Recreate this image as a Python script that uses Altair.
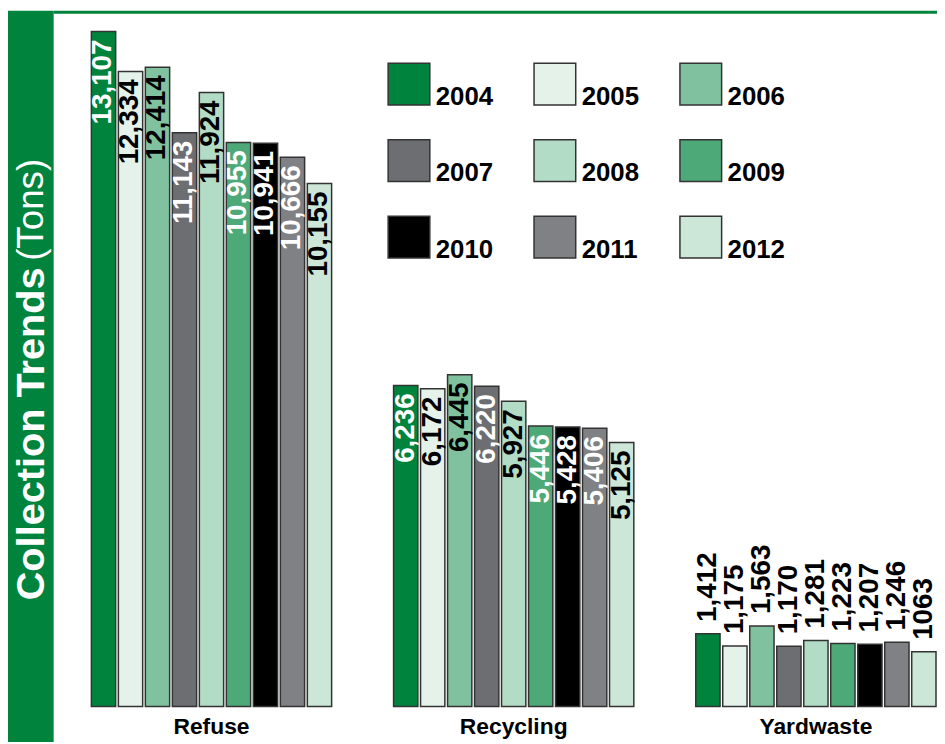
import altair as alt
import pandas as pd

years = ["2004", "2005", "2006", "2007", "2008", "2009", "2010", "2011", "2012"]
categories = ["Refuse", "Recycling", "Yardwaste"]

refuse = [13107, 12334, 12414, 11143, 11924, 10955, 10941, 10666, 10155]
recycling = [6236, 6172, 6445, 6220, 5927, 5446, 5428, 5406, 5125]
yardwaste = [1412, 1175, 1563, 1170, 1281, 1223, 1207, 1246, 1063]

refuse_labels = ["13,107", "12,334", "12,414", "11,143", "11,924", "10,955", "10,941", "10,666", "10,155"]
recycling_labels = ["6,236", "6,172", "6,445", "6,220", "5,927", "5,446", "5,428", "5,406", "5,125"]
yardwaste_labels = ["1,412", "1,175", "1,563", "1,170", "1,281", "1,223", "1,207", "1,246", "1063"]

year_colors = ["#00843D", "#E4F2EA", "#80C29F", "#6D6E71", "#B3DCC6",
               "#4DAA78", "#000000", "#808184", "#CCE6D8"]
white_label_years = ["2004", "2007", "2009", "2010", "2011"]

rows = []
for cat, vals, labs in zip(categories, [refuse, recycling, yardwaste],
                           [refuse_labels, recycling_labels, yardwaste_labels]):
    for y, v, l in zip(years, vals, labs):
        rows.append({"category": cat, "year": y, "value": v, "label": l})
df = pd.DataFrame(rows)

FONT = "Liberation Sans"
W, H = 851, 701
YMAX = 13512

x_enc = alt.X("category:N", sort=categories,
              scale=alt.Scale(paddingInner=0.205, paddingOuter=0),
              axis=alt.Axis(title=None, ticks=False, domain=False, labelAngle=0,
                            labelFont=FONT, labelFontSize=23, labelFontWeight="bold",
                            labelColor="black", labelPadding=9))
xo_enc = alt.XOffset("year:N", sort=years,
                     scale=alt.Scale(paddingInner=0.1, paddingOuter=0))
y_enc = alt.Y("value:Q", scale=alt.Scale(domain=[0, YMAX], nice=False), axis=None)

base = alt.Chart(df)

bars = base.mark_bar(stroke="#333333", strokeWidth=1.5).encode(
    x=x_enc, xOffset=xo_enc, y=y_enc,
    fill=alt.Fill("year:N", scale=alt.Scale(domain=years, range=year_colors),
                  legend=alt.Legend(title=None, orient="none", legendX=298, legendY=52,
                                    columns=3, direction="horizontal",
                                    symbolType="square", symbolSize=1764,
                                    symbolStrokeColor="#333333", symbolStrokeWidth=1.5,
                                    symbolOpacity=1, labelFont=FONT, labelFontSize=26,
                                    labelFontWeight="bold", labelColor="black",
                                    labelBaseline="top", labelOffset=5,
                                    columnPadding=38, rowPadding=27)),
)

inner_text = base.transform_filter("datum.category != 'Yardwaste'").mark_text(
    angle=270, align="right", baseline="middle", dx=-8,
    font=FONT, fontSize=28, fontWeight="bold",
).encode(
    x=x_enc, xOffset=xo_enc, y=y_enc, text="label:N",
    color=alt.condition(
        "indexof(" + str(white_label_years) + ", datum.year) >= 0",
        alt.value("white"), alt.value("black")),
)

outer_text = base.transform_filter("datum.category == 'Yardwaste'").mark_text(
    angle=270, align="left", baseline="middle", dx=12,
    font=FONT, fontSize=28, fontWeight="bold", color="black",
).encode(x=x_enc, xOffset=xo_enc, y=y_enc, text="label:N")

one = alt.Data(values=[{}])
band = alt.Chart(one).mark_rect(color="#00843D").encode(
    x=alt.value(-84), x2=alt.value(-38), y=alt.value(0), y2=alt.value(740))
topline = alt.Chart(one).mark_rect(color="#00843D").encode(
    x=alt.value(-38), x2=alt.value(W + 1), y=alt.value(0), y2=alt.value(3))
title_bold = alt.Chart(one).mark_text(
    angle=270, align="left", baseline="middle", color="white",
    font=FONT, fontSize=40, fontWeight="bold", text="Collection Trends",
).encode(x=alt.value(-60), y=alt.value(594))
title_reg = alt.Chart(one).mark_text(
    angle=270, align="left", baseline="middle", color="white",
    font=FONT, fontSize=37, fontWeight="normal", text="(Tons)",
).encode(x=alt.value(-60), y=alt.value(252))

chart = alt.layer(band, topline, title_bold, title_reg, bars, inner_text, outer_text).properties(
    width=W, height=H,
    autosize=alt.AutoSizeParams(type="none"),
    padding={"left": 84, "top": 0, "right": 1, "bottom": 33},
).configure_view(stroke=None)

chart.save("out.html", embed_options={"renderer": "svg", "actions": False})
